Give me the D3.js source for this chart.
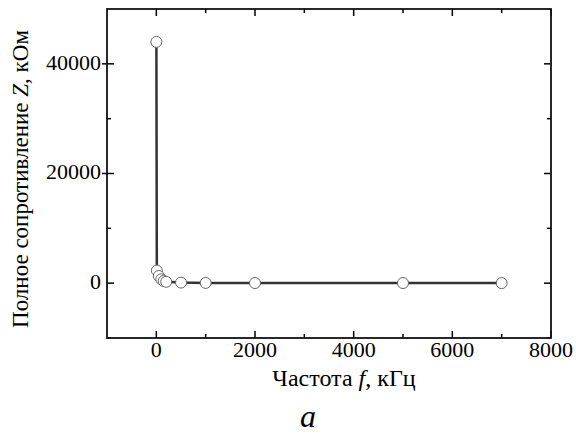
<!DOCTYPE html>
<html lang="ru">
<head>
  <meta charset="UTF-8">
  <title>Полное сопротивление</title>
  <script src="https://d3js.org/d3.v7.min.js"></script>
  <style>
    body { margin: 0; background: #fff; }
    svg text { font-family: "Liberation Serif", "Times New Roman", serif; fill: #000; }
  </style>
</head>
<body>
  <svg id="chart" width="576" height="435"></svg>
  <script>
    // data (frequency in kHz, impedance in kOhm)
    const freq = [1, 10, 50, 100, 150, 200, 500, 1000, 2000, 5000, 7000];
    const imped = [44000, 2300, 1300, 700, 400, 250, 100, 50, 30, 20, 10];

    const xMajor = [0, 2000, 4000, 6000, 8000];
    const xMinor = [1000, 3000, 5000, 7000];
    const yMajor = [0, 20000, 40000];
    const yMinor = [-10000, 10000, 30000];

    const margin = { left: 107, top: 9, right: 25, bottom: 97 };
    const width = 576 - margin.left - margin.right;
    const height = 435 - margin.top - margin.bottom;

    const svg = d3.select("#chart");
    const g = svg.append("g").attr("transform", `translate(${margin.left},${margin.top})`);

    const x = d3.scaleLinear().domain([-1000, 8000]).range([0, width]);
    const y = d3.scaleLinear().domain([-10000, 50000]).range([height, 0]);

    // ticks pointing inward on all four sides
    function drawTicks(values, len) {
      values.forEach(v => {
        g.append("line").attr("x1", x(v)).attr("x2", x(v)).attr("y1", height).attr("y2", height - len)
          .attr("stroke", "#000").attr("stroke-width", 1.5);
        g.append("line").attr("x1", x(v)).attr("x2", x(v)).attr("y1", 0).attr("y2", len)
          .attr("stroke", "#000").attr("stroke-width", 1.5);
      });
    }
    function drawYTicks(values, len, out) {
      values.forEach(v => {
        g.append("line").attr("x1", -out).attr("x2", len).attr("y1", y(v)).attr("y2", y(v))
          .attr("stroke", "#000").attr("stroke-width", 1.5);
        g.append("line").attr("x1", width).attr("x2", width - len).attr("y1", y(v)).attr("y2", y(v))
          .attr("stroke", "#000").attr("stroke-width", 1.5);
      });
    }
    drawTicks(xMajor, 7);
    drawTicks(xMinor, 4);
    drawYTicks([0], 7, 0);
    drawYTicks([20000, 40000], 7, 5);
    drawYTicks(yMinor, 4, 0);

    g.selectAll(".xlab").data(xMajor).enter().append("text")
      .attr("x", d => x(d)).attr("y", height + 19)
      .attr("text-anchor", "middle").attr("font-size", 22)
      .text(d => d);

    g.selectAll(".ylab").data(yMajor).enter().append("text")
      .attr("x", -6).attr("y", d => y(d)).attr("dy", "0.27em")
      .attr("text-anchor", "end").attr("font-size", 22)
      .text(d => d);

    // line and markers
    const pts = freq.map((f, i) => [f, imped[i]]);
    g.append("path").datum(pts)
      .attr("d", d3.line().x(d => x(d[0])).y(d => y(d[1])))
      .attr("fill", "none").attr("stroke", "#333").attr("stroke-width", 2.5);

    g.selectAll(".pt").data(pts).enter().append("circle")
      .attr("cx", d => x(d[0])).attr("cy", d => y(d[1])).attr("r", 5.5)
      .attr("fill", "#fff").attr("stroke", "#666").attr("stroke-width", 1);

    // frame
    g.append("rect").attr("width", width).attr("height", height)
      .attr("fill", "none").attr("stroke", "#111").attr("stroke-width", 1.8);

    // axis titles
    const xt = svg.append("text").attr("x", 344).attr("y", 386)
      .attr("text-anchor", "middle").attr("font-size", 24);
    xt.append("tspan").text("Частота ");
    xt.append("tspan").attr("font-style", "italic").text("f");
    xt.append("tspan").text(", кГц");

    const yt = svg.append("text")
      .attr("transform", "translate(28,179) rotate(-90)")
      .attr("text-anchor", "middle").attr("font-size", 23);
    yt.append("tspan").text("Полное сопротивление ");
    yt.append("tspan").attr("font-style", "italic").text("Z");
    yt.append("tspan").text(", кОм");

    svg.append("text").attr("x", 308).attr("y", 427)
      .attr("text-anchor", "middle").attr("font-size", 32).attr("font-style", "italic")
      .text("a");
  </script>
</body>
</html>
